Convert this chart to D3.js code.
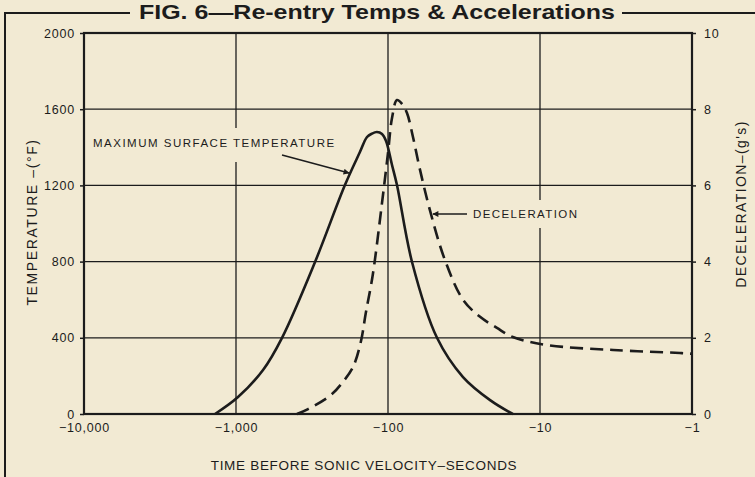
<!DOCTYPE html>
<html>
<head>
<meta charset="utf-8">
<script src="https://cdn.jsdelivr.net/npm/d3@7"></script>
<style>
  body { margin: 0; background: #f2ead3; }
  svg { display: block; }
  text { font-family: "Liberation Sans", Arial, sans-serif; fill: #1c1c1c; }
</style>
</head>
<body>
<svg id="chart" width="755" height="477"></svg>
<script>
// time before sonic velocity (s, negative) on a log axis
const timeTicks = [-10000, -1000, -100, -10, -1];
const timeTickLabels = ["\u221210,000", "\u22121,000", "\u2212100", "\u221210", "\u22121"];
const tempTicks = [0, 400, 800, 1200, 1600, 2000];
const decelTicks = [0, 2, 4, 6, 8, 10];

// maximum surface temperature (deg F)
const tempTime   = [-1374, -970, -664, -498, -302, -192, -153, -137.4, -127.4, -118.3, -109.5, -103, -94.1, -87.3, -69.5, -47.6, -32.1, -21.3, -15.1];
const tempValues = [0, 89, 231, 400, 798, 1202, 1375, 1454, 1472, 1480, 1470, 1433, 1307, 1202, 798, 400, 194, 73, 0];

// deceleration (g's)
const decelTime   = [-397, -336, -237, -198, -170, -151, -140, -126, -109.5, -100, -94.1, -87.3, -80.9, -75, -68.5, -61.5, -53, -42.2, -32.1, -24.8, -19.2, -15.1, -9, -3.3, -1.2, -1];
const decelValues = [0, 0.13, 0.5, 0.84, 1.23, 1.89, 2.65, 3.65, 5.54, 6.85, 7.77, 8.24, 8.14, 7.9, 7.27, 6.4, 5.35, 4.04, 3.0, 2.55, 2.26, 2.02, 1.81, 1.68, 1.6, 1.58];

const ink = "#1c1c1c";
const bg = "#f2ead3";
const pLeft = 84, pRight = 692, pTop = 33, pBottom = 414;

const svg = d3.select("#chart");

const x = d3.scaleLog().domain([10000, 1]).range([pLeft, pRight]);
const xt = t => x(-t);
const yT = d3.scaleLinear().domain([0, 2000]).range([pBottom, pTop]);
const yD = d3.scaleLinear().domain([0, 10]).range([pBottom, pTop]);

// title strip and frame
svg.append("line").attr("x1", 5).attr("x2", 130).attr("y1", 13).attr("y2", 13)
  .attr("stroke", ink).attr("stroke-width", 2);
svg.append("line").attr("x1", 622).attr("x2", 755).attr("y1", 13).attr("y2", 13)
  .attr("stroke", ink).attr("stroke-width", 2);
svg.append("line").attr("x1", 5).attr("x2", 5).attr("y1", 12).attr("y2", 477)
  .attr("stroke", ink).attr("stroke-width", 2);
svg.append("text")
  .attr("x", 377).attr("y", 19)
  .attr("text-anchor", "middle")
  .attr("font-size", "21px")
  .attr("font-weight", "bold")
  .attr("textLength", 476)
  .attr("lengthAdjust", "spacingAndGlyphs")
  .text("FIG. 6\u2014Re-entry Temps & Accelerations");

// grid
svg.append("g").selectAll("line")
  .data(tempTicks.slice(1, -1))
  .enter().append("line")
  .attr("x1", pLeft).attr("x2", pRight)
  .attr("y1", d => yT(d)).attr("y2", d => yT(d))
  .attr("stroke", ink).attr("stroke-width", 1.3);

svg.append("g").selectAll("line")
  .data(timeTicks.slice(1, -1))
  .enter().append("line")
  .attr("x1", d => xt(d)).attr("x2", d => xt(d))
  .attr("y1", pTop).attr("y2", pBottom)
  .attr("stroke", ink).attr("stroke-width", 1.3);

// axes
const leftAxis = svg.append("g")
  .attr("transform", "translate(" + pLeft + ",0)")
  .call(d3.axisLeft(yT).tickValues(tempTicks).tickSize(4).tickSizeOuter(0).tickPadding(5)
    .tickFormat(d3.format("d")));
const rightAxis = svg.append("g")
  .attr("transform", "translate(" + pRight + ",0)")
  .call(d3.axisRight(yD).tickValues(decelTicks).tickSize(4).tickSizeOuter(0).tickPadding(8)
    .tickFormat(d3.format("d")));
const bottomAxis = svg.append("g")
  .attr("transform", "translate(0," + pBottom + ")")
  .call(d3.axisBottom(x).tickValues(timeTicks.map(d => -d)).tickSize(0).tickPadding(9)
    .tickFormat((d, i) => timeTickLabels[i]));

[leftAxis, rightAxis, bottomAxis].forEach(g => {
  g.select(".domain").remove();
  g.selectAll("line").attr("stroke", ink).attr("stroke-width", 1.5);
  g.selectAll("text")
    .attr("fill", ink)
    .attr("font-size", "12.5px")
    .attr("letter-spacing", "0.8px")
    .attr("font-family", "Liberation Sans, Arial, sans-serif");
});

svg.append("rect")
  .attr("x", pLeft).attr("y", pTop)
  .attr("width", pRight - pLeft).attr("height", pBottom - pTop)
  .attr("fill", "none").attr("stroke", ink).attr("stroke-width", 2.2);

// axis titles
svg.append("text")
  .attr("transform", "translate(37,222) rotate(-90)")
  .attr("text-anchor", "middle")
  .attr("font-size", "14px")
  .attr("letter-spacing", "1.6px")
  .text("TEMPERATURE \u2013(\u00b0F)");

svg.append("text")
  .attr("transform", "translate(746,204) rotate(-90)")
  .attr("text-anchor", "middle")
  .attr("font-size", "14px")
  .attr("letter-spacing", "1.4px")
  .text("DECELERATION\u2013(g's)");

svg.append("text")
  .attr("x", 364).attr("y", 470)
  .attr("text-anchor", "middle")
  .attr("font-size", "13.5px")
  .attr("letter-spacing", "0.7px")
  .text("TIME BEFORE SONIC VELOCITY\u2013SECONDS");

// curves
const tempPts = tempTime.map((t, i) => [t, tempValues[i]]);
const decelPts = decelTime.map((t, i) => [t, decelValues[i]]);

svg.append("path")
  .datum(tempPts)
  .attr("fill", "none")
  .attr("stroke", ink)
  .attr("stroke-width", 2.6)
  .attr("d", d3.line().x(d => xt(d[0])).y(d => yT(d[1])).curve(d3.curveCatmullRom.alpha(0.5)));

svg.append("path")
  .datum(decelPts)
  .attr("fill", "none")
  .attr("stroke", ink)
  .attr("stroke-width", 2.6)
  .attr("stroke-dasharray", "13,7")
  .attr("d", d3.line().x(d => xt(d[0])).y(d => yD(d[1])).curve(d3.curveCatmullRom.alpha(0.5)));

// labels with knock-out backgrounds
svg.append("rect").attr("x", 90).attr("y", 128).attr("width", 250).attr("height", 34).attr("fill", bg);
svg.append("text")
  .attr("x", 93).attr("y", 147)
  .attr("font-size", "11.5px")
  .attr("letter-spacing", "1.5px")
  .text("MAXIMUM SURFACE TEMPERATURE");

svg.append("rect").attr("x", 470).attr("y", 200).attr("width", 112).attr("height", 28).attr("fill", bg);
svg.append("text")
  .attr("x", 473).attr("y", 218)
  .attr("font-size", "11.5px")
  .attr("letter-spacing", "1.4px")
  .text("DECELERATION");

// arrows
svg.append("defs").append("marker")
  .attr("id", "head")
  .attr("viewBox", "0 0 10 10")
  .attr("refX", 9).attr("refY", 5)
  .attr("markerWidth", 9).attr("markerHeight", 6)
  .attr("markerUnits", "userSpaceOnUse")
  .attr("orient", "auto")
  .append("path").attr("d", "M0,0L10,5L0,10Z").attr("fill", ink);

svg.append("line")
  .attr("x1", 282).attr("y1", 155).attr("x2", 349).attr("y2", 173)
  .attr("stroke", ink).attr("stroke-width", 1.5)
  .attr("marker-end", "url(#head)");

svg.append("line")
  .attr("x1", 467).attr("y1", 214).attr("x2", 433).attr("y2", 214)
  .attr("stroke", ink).attr("stroke-width", 1.5)
  .attr("marker-end", "url(#head)");
</script>
</body>
</html>
